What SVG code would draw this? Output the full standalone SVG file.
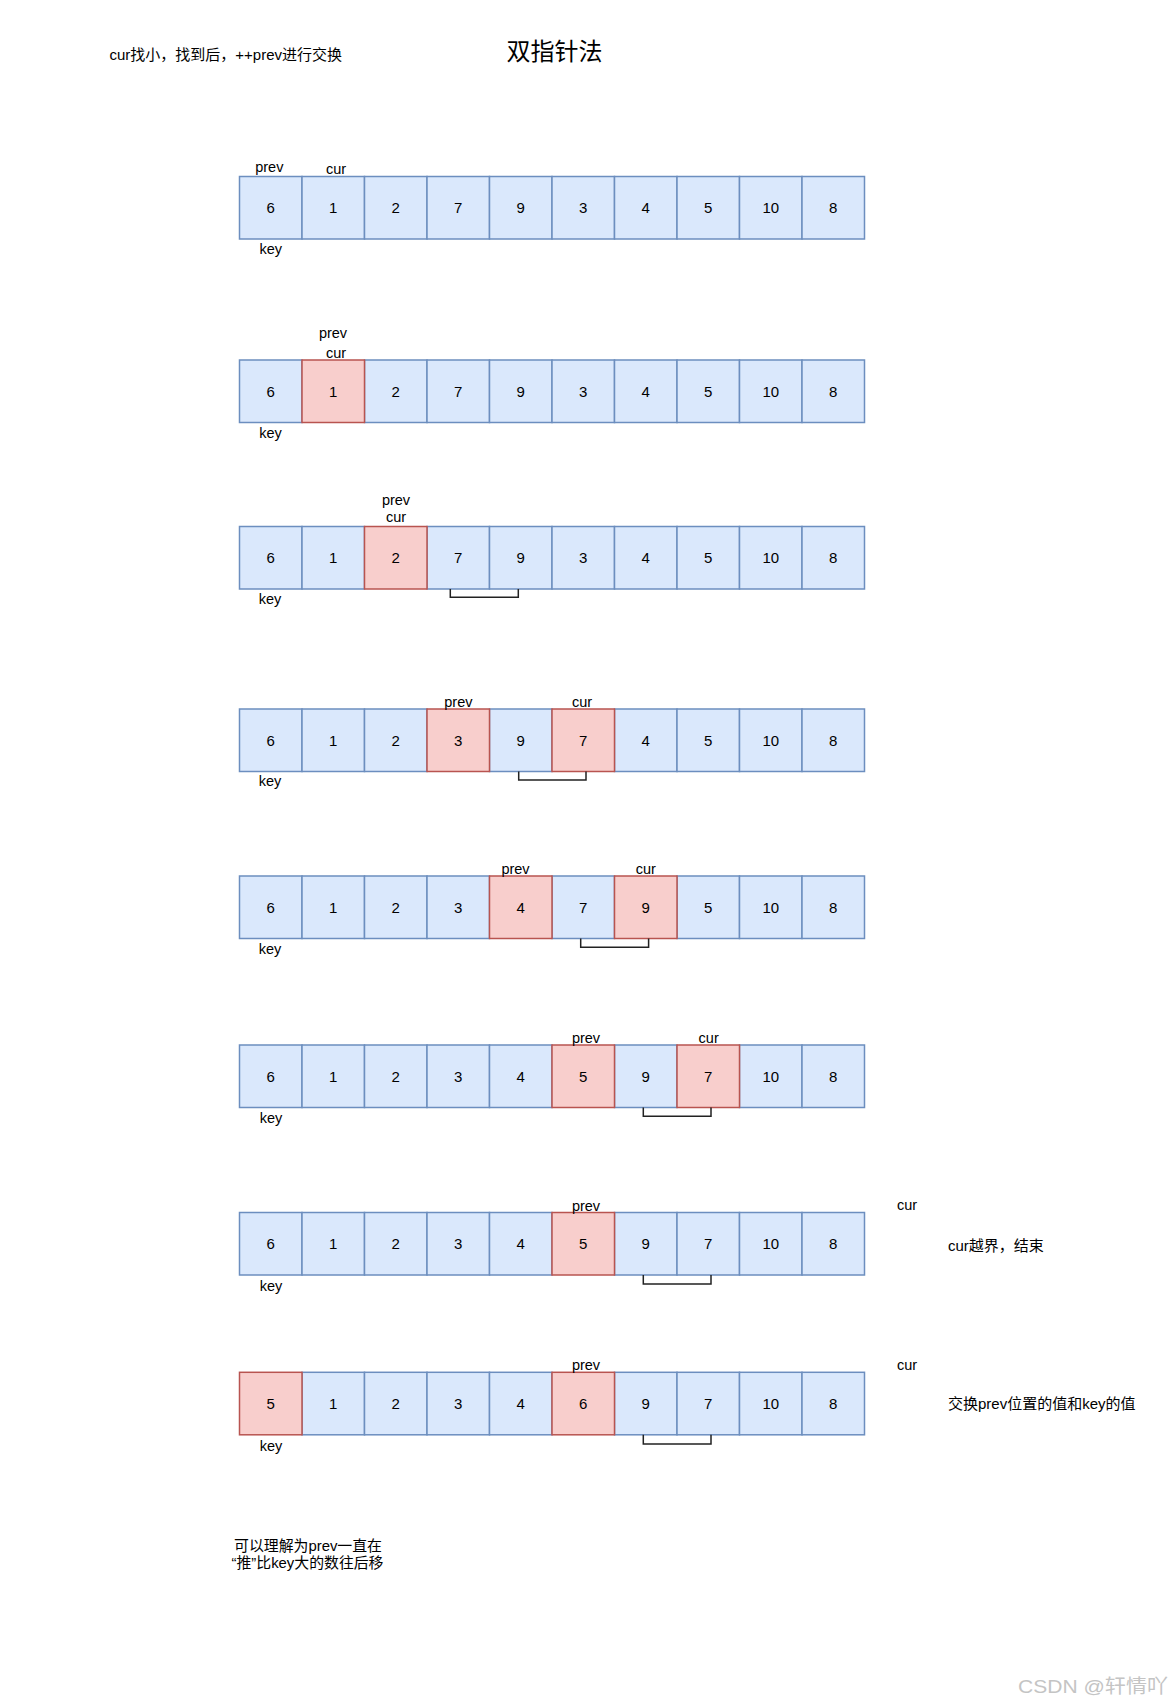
<svg xmlns="http://www.w3.org/2000/svg" width="1172" height="1705" viewBox="0 0 1172 1705">
<style>
.b{fill:#dae8fc;stroke:#6c8ebf;stroke-width:1.5}
.r{fill:#f8cecc;stroke:#b85450;stroke-width:1.5}
text{font-family:"Liberation Sans","Noto Sans CJK SC",sans-serif;fill:#000;dominant-baseline:central}
.t{font-size:14.5px;text-anchor:middle}
.d{font-size:15px;text-anchor:middle}
.n{font-size:15px}
.br{fill:none;stroke:#222;stroke-width:1.5}
</style>
<rect width="1172" height="1705" fill="#fff"/>
<g id="title"><text x="554.5" y="51" style="font-size:24px;text-anchor:middle">双指针法</text></g>
<g id="note-top"><text class="n" x="109.5" y="54.5">cur找小，找到后，++prev进行交换</text></g>

<g id="row1">
<g id="r1c0"><rect class="b" x="239.5" y="176.5" width="62.5" height="62.5"/><text class="d" x="270.75" y="207.75">6</text></g>
<g id="r1c1"><rect class="b" x="302" y="176.5" width="62.5" height="62.5"/><text class="d" x="333.25" y="207.75">1</text></g>
<g id="r1c2"><rect class="b" x="364.5" y="176.5" width="62.5" height="62.5"/><text class="d" x="395.75" y="207.75">2</text></g>
<g id="r1c3"><rect class="b" x="427" y="176.5" width="62.5" height="62.5"/><text class="d" x="458.25" y="207.75">7</text></g>
<g id="r1c4"><rect class="b" x="489.5" y="176.5" width="62.5" height="62.5"/><text class="d" x="520.75" y="207.75">9</text></g>
<g id="r1c5"><rect class="b" x="552" y="176.5" width="62.5" height="62.5"/><text class="d" x="583.25" y="207.75">3</text></g>
<g id="r1c6"><rect class="b" x="614.5" y="176.5" width="62.5" height="62.5"/><text class="d" x="645.75" y="207.75">4</text></g>
<g id="r1c7"><rect class="b" x="677" y="176.5" width="62.5" height="62.5"/><text class="d" x="708.25" y="207.75">5</text></g>
<g id="r1c8"><rect class="b" x="739.5" y="176.5" width="62.5" height="62.5"/><text class="d" x="770.75" y="207.75">10</text></g>
<g id="r1c9"><rect class="b" x="802" y="176.5" width="62.5" height="62.5"/><text class="d" x="833.25" y="207.75">8</text></g>
<text class="t" x="269.3" y="166.7">prev</text><text class="t" x="336" y="169.3">cur</text><text class="t" x="270.7" y="249.3">key</text>
</g>

<g id="row2">
<g id="r2c0"><rect class="b" x="239.5" y="360" width="62.5" height="62.5"/><text class="d" x="270.75" y="391.25">6</text></g>
<g id="r2c2"><rect class="b" x="364.5" y="360" width="62.5" height="62.5"/><text class="d" x="395.75" y="391.25">2</text></g>
<g id="r2c3"><rect class="b" x="427" y="360" width="62.5" height="62.5"/><text class="d" x="458.25" y="391.25">7</text></g>
<g id="r2c4"><rect class="b" x="489.5" y="360" width="62.5" height="62.5"/><text class="d" x="520.75" y="391.25">9</text></g>
<g id="r2c5"><rect class="b" x="552" y="360" width="62.5" height="62.5"/><text class="d" x="583.25" y="391.25">3</text></g>
<g id="r2c6"><rect class="b" x="614.5" y="360" width="62.5" height="62.5"/><text class="d" x="645.75" y="391.25">4</text></g>
<g id="r2c7"><rect class="b" x="677" y="360" width="62.5" height="62.5"/><text class="d" x="708.25" y="391.25">5</text></g>
<g id="r2c8"><rect class="b" x="739.5" y="360" width="62.5" height="62.5"/><text class="d" x="770.75" y="391.25">10</text></g>
<g id="r2c9"><rect class="b" x="802" y="360" width="62.5" height="62.5"/><text class="d" x="833.25" y="391.25">8</text></g>
<g id="r2c1"><rect class="r" x="302" y="360" width="62.5" height="62.5"/><text class="d" x="333.25" y="391.25">1</text></g>
<text class="t" x="333" y="333">prev</text><text class="t" x="336" y="353">cur</text><text class="t" x="270.5" y="433">key</text>
</g>

<g id="row3">
<g id="r3c0"><rect class="b" x="239.5" y="526.5" width="62.5" height="62.5"/><text class="d" x="270.75" y="557.75">6</text></g>
<g id="r3c1"><rect class="b" x="302" y="526.5" width="62.5" height="62.5"/><text class="d" x="333.25" y="557.75">1</text></g>
<g id="r3c3"><rect class="b" x="427" y="526.5" width="62.5" height="62.5"/><text class="d" x="458.25" y="557.75">7</text></g>
<g id="r3c4"><rect class="b" x="489.5" y="526.5" width="62.5" height="62.5"/><text class="d" x="520.75" y="557.75">9</text></g>
<g id="r3c5"><rect class="b" x="552" y="526.5" width="62.5" height="62.5"/><text class="d" x="583.25" y="557.75">3</text></g>
<g id="r3c6"><rect class="b" x="614.5" y="526.5" width="62.5" height="62.5"/><text class="d" x="645.75" y="557.75">4</text></g>
<g id="r3c7"><rect class="b" x="677" y="526.5" width="62.5" height="62.5"/><text class="d" x="708.25" y="557.75">5</text></g>
<g id="r3c8"><rect class="b" x="739.5" y="526.5" width="62.5" height="62.5"/><text class="d" x="770.75" y="557.75">10</text></g>
<g id="r3c9"><rect class="b" x="802" y="526.5" width="62.5" height="62.5"/><text class="d" x="833.25" y="557.75">8</text></g>
<g id="r3c2"><rect class="r" x="364.5" y="526.5" width="62.5" height="62.5"/><text class="d" x="395.75" y="557.75">2</text></g>
<text class="t" x="396" y="500">prev</text><text class="t" x="396" y="516.7">cur</text><text class="t" x="270" y="599">key</text>
</g>

<g id="row4">
<g id="r4c0"><rect class="b" x="239.5" y="709" width="62.5" height="62.5"/><text class="d" x="270.75" y="740.25">6</text></g>
<g id="r4c1"><rect class="b" x="302" y="709" width="62.5" height="62.5"/><text class="d" x="333.25" y="740.25">1</text></g>
<g id="r4c2"><rect class="b" x="364.5" y="709" width="62.5" height="62.5"/><text class="d" x="395.75" y="740.25">2</text></g>
<g id="r4c4"><rect class="b" x="489.5" y="709" width="62.5" height="62.5"/><text class="d" x="520.75" y="740.25">9</text></g>
<g id="r4c6"><rect class="b" x="614.5" y="709" width="62.5" height="62.5"/><text class="d" x="645.75" y="740.25">4</text></g>
<g id="r4c7"><rect class="b" x="677" y="709" width="62.5" height="62.5"/><text class="d" x="708.25" y="740.25">5</text></g>
<g id="r4c8"><rect class="b" x="739.5" y="709" width="62.5" height="62.5"/><text class="d" x="770.75" y="740.25">10</text></g>
<g id="r4c9"><rect class="b" x="802" y="709" width="62.5" height="62.5"/><text class="d" x="833.25" y="740.25">8</text></g>
<g id="r4c3"><rect class="r" x="427" y="709" width="62.5" height="62.5"/><text class="d" x="458.25" y="740.25">3</text></g>
<g id="r4c5"><rect class="r" x="552" y="709" width="62.5" height="62.5"/><text class="d" x="583.25" y="740.25">7</text></g>
<text class="t" x="458.4" y="701.7">prev</text><text class="t" x="582" y="701.7">cur</text><text class="t" x="270" y="781">key</text>
</g>

<g id="row5">
<g id="r5c0"><rect class="b" x="239.5" y="876" width="62.5" height="62.5"/><text class="d" x="270.75" y="907.25">6</text></g>
<g id="r5c1"><rect class="b" x="302" y="876" width="62.5" height="62.5"/><text class="d" x="333.25" y="907.25">1</text></g>
<g id="r5c2"><rect class="b" x="364.5" y="876" width="62.5" height="62.5"/><text class="d" x="395.75" y="907.25">2</text></g>
<g id="r5c3"><rect class="b" x="427" y="876" width="62.5" height="62.5"/><text class="d" x="458.25" y="907.25">3</text></g>
<g id="r5c5"><rect class="b" x="552" y="876" width="62.5" height="62.5"/><text class="d" x="583.25" y="907.25">7</text></g>
<g id="r5c7"><rect class="b" x="677" y="876" width="62.5" height="62.5"/><text class="d" x="708.25" y="907.25">5</text></g>
<g id="r5c8"><rect class="b" x="739.5" y="876" width="62.5" height="62.5"/><text class="d" x="770.75" y="907.25">10</text></g>
<g id="r5c9"><rect class="b" x="802" y="876" width="62.5" height="62.5"/><text class="d" x="833.25" y="907.25">8</text></g>
<g id="r5c4"><rect class="r" x="489.5" y="876" width="62.5" height="62.5"/><text class="d" x="520.75" y="907.25">4</text></g>
<g id="r5c6"><rect class="r" x="614.5" y="876" width="62.5" height="62.5"/><text class="d" x="645.75" y="907.25">9</text></g>
<text class="t" x="515.5" y="868.7">prev</text><text class="t" x="645.8" y="868.7">cur</text><text class="t" x="270" y="949">key</text>
</g>

<g id="row6">
<g id="r6c0"><rect class="b" x="239.5" y="1045" width="62.5" height="62.5"/><text class="d" x="270.75" y="1076.25">6</text></g>
<g id="r6c1"><rect class="b" x="302" y="1045" width="62.5" height="62.5"/><text class="d" x="333.25" y="1076.25">1</text></g>
<g id="r6c2"><rect class="b" x="364.5" y="1045" width="62.5" height="62.5"/><text class="d" x="395.75" y="1076.25">2</text></g>
<g id="r6c3"><rect class="b" x="427" y="1045" width="62.5" height="62.5"/><text class="d" x="458.25" y="1076.25">3</text></g>
<g id="r6c4"><rect class="b" x="489.5" y="1045" width="62.5" height="62.5"/><text class="d" x="520.75" y="1076.25">4</text></g>
<g id="r6c6"><rect class="b" x="614.5" y="1045" width="62.5" height="62.5"/><text class="d" x="645.75" y="1076.25">9</text></g>
<g id="r6c8"><rect class="b" x="739.5" y="1045" width="62.5" height="62.5"/><text class="d" x="770.75" y="1076.25">10</text></g>
<g id="r6c9"><rect class="b" x="802" y="1045" width="62.5" height="62.5"/><text class="d" x="833.25" y="1076.25">8</text></g>
<g id="r6c5"><rect class="r" x="552" y="1045" width="62.5" height="62.5"/><text class="d" x="583.25" y="1076.25">5</text></g>
<g id="r6c7"><rect class="r" x="677" y="1045" width="62.5" height="62.5"/><text class="d" x="708.25" y="1076.25">7</text></g>
<text class="t" x="586" y="1038.3">prev</text><text class="t" x="708.7" y="1038.3">cur</text><text class="t" x="271" y="1118.3">key</text>
</g>

<g id="row7">
<g id="r7c0"><rect class="b" x="239.5" y="1212.5" width="62.5" height="62.5"/><text class="d" x="270.75" y="1243.75">6</text></g>
<g id="r7c1"><rect class="b" x="302" y="1212.5" width="62.5" height="62.5"/><text class="d" x="333.25" y="1243.75">1</text></g>
<g id="r7c2"><rect class="b" x="364.5" y="1212.5" width="62.5" height="62.5"/><text class="d" x="395.75" y="1243.75">2</text></g>
<g id="r7c3"><rect class="b" x="427" y="1212.5" width="62.5" height="62.5"/><text class="d" x="458.25" y="1243.75">3</text></g>
<g id="r7c4"><rect class="b" x="489.5" y="1212.5" width="62.5" height="62.5"/><text class="d" x="520.75" y="1243.75">4</text></g>
<g id="r7c6"><rect class="b" x="614.5" y="1212.5" width="62.5" height="62.5"/><text class="d" x="645.75" y="1243.75">9</text></g>
<g id="r7c7"><rect class="b" x="677" y="1212.5" width="62.5" height="62.5"/><text class="d" x="708.25" y="1243.75">7</text></g>
<g id="r7c8"><rect class="b" x="739.5" y="1212.5" width="62.5" height="62.5"/><text class="d" x="770.75" y="1243.75">10</text></g>
<g id="r7c9"><rect class="b" x="802" y="1212.5" width="62.5" height="62.5"/><text class="d" x="833.25" y="1243.75">8</text></g>
<g id="r7c5"><rect class="r" x="552" y="1212.5" width="62.5" height="62.5"/><text class="d" x="583.25" y="1243.75">5</text></g>
<text class="t" x="586" y="1205.7">prev</text><text class="t" x="907" y="1205">cur</text><text class="t" x="271" y="1285.7">key</text>
<text class="n" x="948" y="1245">cur越界，结束</text>
</g>

<g id="row8">
<g id="r8c1"><rect class="b" x="302" y="1372.3" width="62.5" height="62.5"/><text class="d" x="333.25" y="1403.5">1</text></g>
<g id="r8c2"><rect class="b" x="364.5" y="1372.3" width="62.5" height="62.5"/><text class="d" x="395.75" y="1403.5">2</text></g>
<g id="r8c3"><rect class="b" x="427" y="1372.3" width="62.5" height="62.5"/><text class="d" x="458.25" y="1403.5">3</text></g>
<g id="r8c4"><rect class="b" x="489.5" y="1372.3" width="62.5" height="62.5"/><text class="d" x="520.75" y="1403.5">4</text></g>
<g id="r8c6"><rect class="b" x="614.5" y="1372.3" width="62.5" height="62.5"/><text class="d" x="645.75" y="1403.5">9</text></g>
<g id="r8c7"><rect class="b" x="677" y="1372.3" width="62.5" height="62.5"/><text class="d" x="708.25" y="1403.5">7</text></g>
<g id="r8c8"><rect class="b" x="739.5" y="1372.3" width="62.5" height="62.5"/><text class="d" x="770.75" y="1403.5">10</text></g>
<g id="r8c9"><rect class="b" x="802" y="1372.3" width="62.5" height="62.5"/><text class="d" x="833.25" y="1403.5">8</text></g>
<g id="r8c0"><rect class="r" x="239.5" y="1372.3" width="62.5" height="62.5"/><text class="d" x="270.75" y="1403.5">5</text></g>
<g id="r8c5"><rect class="r" x="552" y="1372.3" width="62.5" height="62.5"/><text class="d" x="583.25" y="1403.5">6</text></g>
<text class="t" x="586" y="1365">prev</text><text class="t" x="907" y="1365">cur</text><text class="t" x="271" y="1445.7">key</text>
<text class="n" x="948" y="1403">交换prev位置的值和key的值</text>
</g>

<g id="connectors">
<path class="br" d="M450.3 589V597.3H518.3V589"/>
<path class="br" d="M518.7 771.5V780H586V771.5"/>
<path class="br" d="M580.7 938.5V947.3H648.6V938.5"/>
<path class="br" d="M643.3 1107.5V1116.3H711V1107.5"/>
<path class="br" d="M643.3 1275V1284H711V1275"/>
<path class="br" d="M643.3 1434.8V1444H711V1434.8"/>
</g>

<g id="note-bottom">
<text class="n" x="234" y="1545" textLength="148" lengthAdjust="spacingAndGlyphs">可以理解为prev一直在</text>
<text class="n" x="231.5" y="1562.7" textLength="152" lengthAdjust="spacingAndGlyphs">“推”比key大的数往后移</text>
</g>
<g id="watermark"><text x="1018" y="1686" style="font-size:19px;fill:#c4c4c4" textLength="150" lengthAdjust="spacingAndGlyphs">CSDN @轩情吖</text></g>
</svg>
